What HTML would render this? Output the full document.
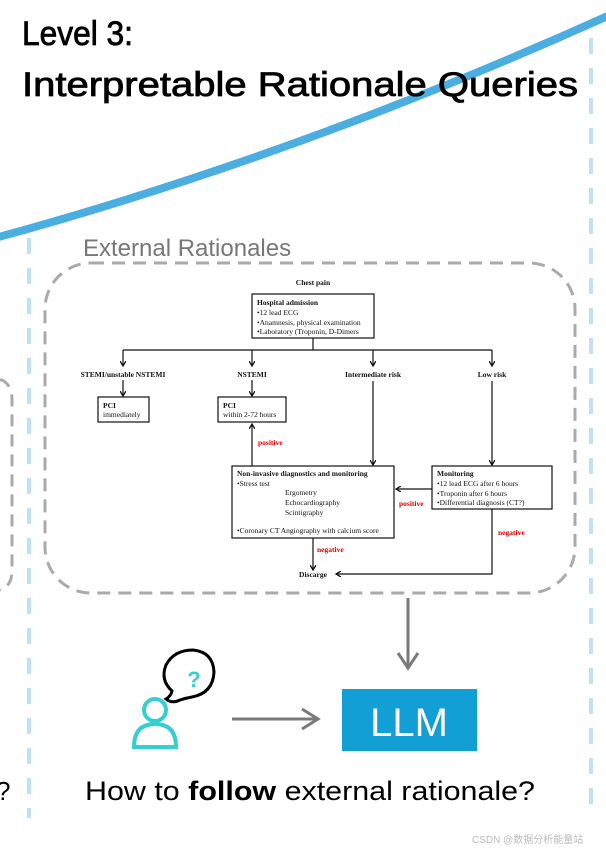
<!DOCTYPE html>
<html><head><meta charset="utf-8"><style>
html,body{margin:0;padding:0;background:#fff;width:606px;height:850px;overflow:hidden}
svg{display:block}
.t{font-family:"Liberation Serif",serif;font-size:7.5px;fill:#111}
.b{font-weight:bold}
.r{fill:#d00;font-weight:bold;font-family:"Liberation Serif",serif;font-size:7.5px}
</style></head><body>
<svg width="606" height="850" viewBox="0 0 606 850" xmlns="http://www.w3.org/2000/svg">
<defs>
<marker id="a" markerWidth="6" markerHeight="6" refX="5" refY="3" orient="auto" markerUnits="userSpaceOnUse"><path d="M0,0 L5,3 L0,6" fill="none" stroke="#111" stroke-width="1.3"/></marker>
</defs>
<line x1="29" y1="238" x2="29" y2="818" stroke="#bfe2f3" stroke-width="4" stroke-dasharray="16,14"/>
<line x1="591" y1="38" x2="591" y2="818" stroke="#bfe2f3" stroke-width="4" stroke-dasharray="16,14"/>
<path d="M-20,380 L2,380 Q12,385 12,400 L12,570 Q12,588 -2,590" fill="none" stroke="#aaa" stroke-width="3" stroke-dasharray="12,8"/>
<path d="M-5,238 Q300,155 612,14" fill="none" stroke="#4aaee0" stroke-width="8"/>
<text x="22" y="45" font-family="'Liberation Sans',sans-serif" font-size="34" fill="#000" stroke="#000" stroke-width="0.8" textLength="111" lengthAdjust="spacingAndGlyphs">Level 3:</text>
<text x="22" y="96" font-family="'Liberation Sans',sans-serif" font-size="34" fill="#000" stroke="#000" stroke-width="0.8" textLength="556" lengthAdjust="spacingAndGlyphs">Interpretable Rationale Queries</text>
<text x="83" y="256" font-family="'Liberation Sans',sans-serif" font-size="24" fill="#777">External Rationales</text>
<rect x="45" y="263" width="530" height="330" rx="46" fill="none" stroke="#aaa" stroke-width="3" stroke-dasharray="13,8"/>
<g stroke="#111" stroke-width="1.2" fill="none">
<rect x="252" y="294" width="122" height="44"/>
<line x1="313" y1="338" x2="313" y2="350"/>
<line x1="123" y1="350" x2="492" y2="350"/>
<line x1="123" y1="350" x2="123" y2="366" marker-end="url(#a)"/>
<line x1="252" y1="350" x2="252" y2="366" marker-end="url(#a)"/>
<line x1="373" y1="350" x2="373" y2="366" marker-end="url(#a)"/>
<line x1="492" y1="350" x2="492" y2="366" marker-end="url(#a)"/>
<line x1="123" y1="380" x2="123" y2="396" marker-end="url(#a)"/>
<line x1="252" y1="380" x2="252" y2="396" marker-end="url(#a)"/>
<rect x="98" y="397" width="51" height="25"/>
<rect x="218" y="397" width="68" height="25"/>
<line x1="373" y1="381" x2="373" y2="465" marker-end="url(#a)"/>
<line x1="492" y1="381" x2="492" y2="465" marker-end="url(#a)"/>
<rect x="232" y="466" width="162" height="72"/>
<rect x="432" y="466" width="120" height="43"/>
<line x1="252" y1="466" x2="252" y2="424" marker-end="url(#a)"/>
<line x1="432" y1="489" x2="396" y2="489" marker-end="url(#a)"/>
<line x1="313" y1="538" x2="313" y2="570" marker-end="url(#a)"/>
<polyline points="492,509 492,574 336,574" marker-end="url(#a)"/>
</g>
<text class="t b" x="313" y="285" text-anchor="middle">Chest pain</text>
<text class="t b" x="257" y="305">Hospital admission</text>
<text class="t" x="257" y="315">•12 lead ECG</text>
<text class="t" x="257" y="325">•Anamnesis, physical examination</text>
<text class="t" x="257" y="334">•Laboratory (Troponin, D-Dimers</text>
<text class="t b" x="123" y="377" text-anchor="middle">STEMI/unstable NSTEMI</text>
<text class="t b" x="252" y="377" text-anchor="middle">NSTEMI</text>
<text class="t b" x="373" y="377" text-anchor="middle">Intermediate risk</text>
<text class="t b" x="492" y="377" text-anchor="middle">Low risk</text>
<text class="t b" x="103" y="408">PCI</text>
<text class="t" x="103" y="417">immediately</text>
<text class="t b" x="223" y="408">PCI</text>
<text class="t" x="223" y="417">within 2-72 hours</text>
<text class="r" x="258" y="445">positive</text>
<text class="t b" x="237" y="476">Non-invasive diagnostics and monitoring</text>
<text class="t" x="237" y="486">•Stress test</text>
<text class="t" x="285" y="495">Ergometry</text>
<text class="t" x="285" y="505">Echocardiography</text>
<text class="t" x="285" y="515">Scintigraphy</text>
<text class="t" x="237" y="533">•Coronary CT Angiography with calcium score</text>
<text class="t b" x="437" y="476">Monitoring</text>
<text class="t" x="437" y="486">•12 lead ECG after 6 hours</text>
<text class="t" x="437" y="496">•Troponin after 6 hours</text>
<text class="t" x="437" y="505">•Differential diagnosis (CT?)</text>
<text class="r" x="399" y="506">positive</text>
<text class="r" x="317" y="552">negative</text>
<text class="r" x="498" y="535">negative</text>
<text class="t b" x="313" y="577" text-anchor="middle">Discarge</text>
<g stroke="#7a7a7a" stroke-width="3" fill="none">
<line x1="408" y1="598" x2="408" y2="668"/>
<polyline points="398,653 408,668 418,653"/>
<line x1="232" y1="719" x2="318" y2="719"/>
<polyline points="302,709 318,719 302,729"/>
</g>
<rect x="342" y="689" width="135" height="62" fill="#129fd6"/>
<text x="409" y="736" text-anchor="middle" font-family="'Liberation Sans',sans-serif" font-size="40" fill="#fff">LLM</text>
<g stroke="#36cfcf" stroke-width="4" fill="none">
<circle cx="155" cy="710" r="11"/>
<path d="M134,747 Q134,724 155,724 Q176,724 176,747 Z"/>
</g>
<path d="M180,700 Q172,704 166,699 Q171,696 172,691 Q160,680 166,665 Q174,650 193,650 Q213,652 214,672 Q213,693 192,697 Q186,698 180,700 Z" fill="none" stroke="#000" stroke-width="3"/>
<text x="194" y="687" text-anchor="middle" font-family="'Liberation Sans',sans-serif" font-size="22" font-weight="bold" fill="#36cfcf">?</text>
<text x="85" y="800" font-family="'Liberation Sans',sans-serif" font-size="27" fill="#000" textLength="450" lengthAdjust="spacingAndGlyphs">How to <tspan font-weight="bold">follow</tspan> external rationale?</text>
<text x="-4" y="800" font-family="'Liberation Sans',sans-serif" font-size="26" fill="#000">?</text>
<text x="472" y="843" font-family="'Liberation Sans','Noto Sans CJK SC',sans-serif" font-size="10" fill="#bbb">CSDN @数据分析能量站</text>
</svg>
</body></html>
